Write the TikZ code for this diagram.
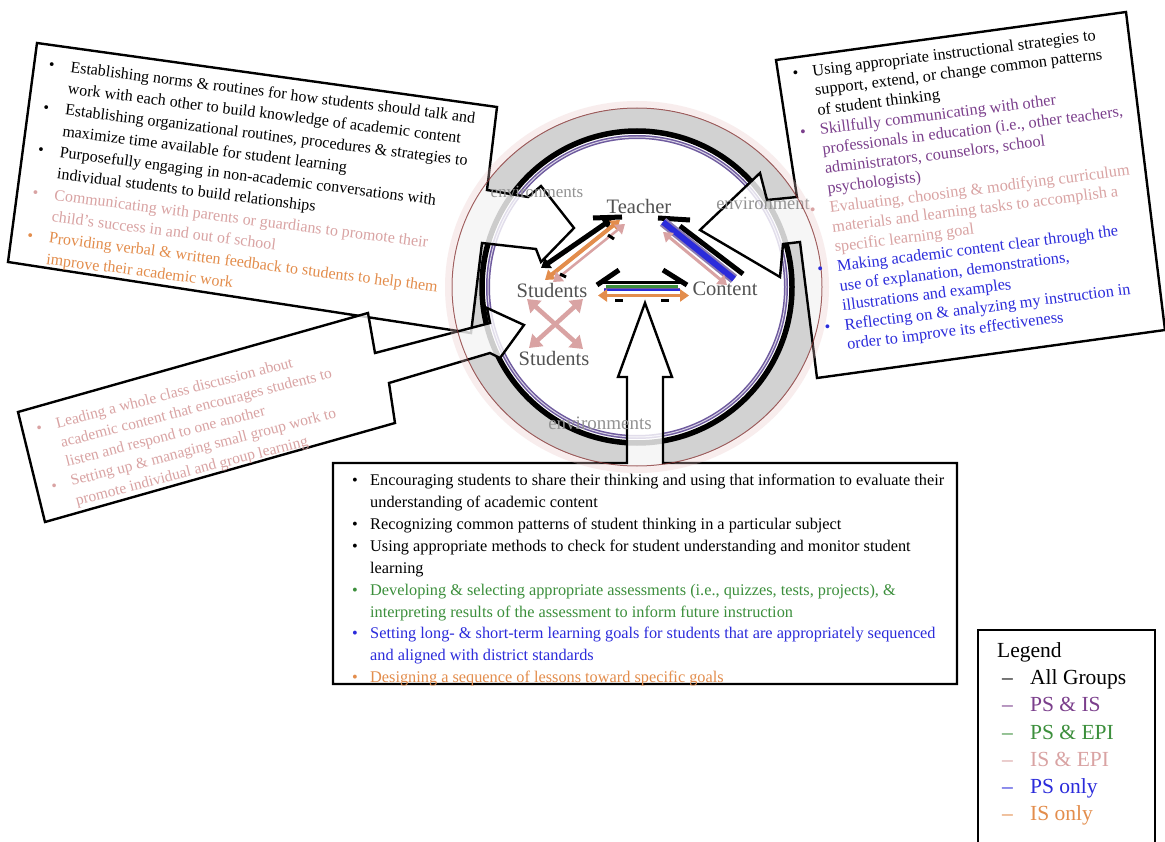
\documentclass[tikz,border=0pt]{standalone}
\usepackage{fontspec}
\setmainfont{Liberation Serif}
\usetikzlibrary{arrows.meta,calc}
\definecolor{cPurple}{HTML}{7B3F8C}
\definecolor{cGreen}{HTML}{3C8F3C}
\definecolor{cPink}{HTML}{D9A3A3}
\definecolor{cBlue}{HTML}{2B2BDB}
\definecolor{cOrange}{HTML}{E38D4C}
\definecolor{cRing}{HTML}{D2D2D2}
\definecolor{cRedLine}{HTML}{8B3A3A}
\definecolor{cHalo}{HTML}{E8C4C4}
\definecolor{cRingPurple}{HTML}{6E5A9E}
\newcommand\bl[2]{\makebox[22pt][l]{\color{#1}\textbullet}{\color{#1}#2}}
\newcommand\cl[2]{\hspace*{22pt}{\color{#1}#2}}
\newcommand\bb[2]{\makebox[18pt][l]{\color{#1}\textbullet}{\color{#1}#2}}
\newcommand\cb[2]{\hspace*{18pt}{\color{#1}#2}}
\begin{document}
\begin{tikzpicture}[x=1pt,y=-1pt,
  callout/.style={draw=black, line width=2.4pt, fill=white, fill opacity=0.8, line join=miter},
  boxtext/.style={inner sep=0pt, align=left, anchor=north west},
  env/.style={text=gray!85, inner sep=0pt},
  hub/.style={text=black!68, font=\fontsize{20.5}{20.5}\selectfont, inner sep=0pt},
  tips/.style={{Triangle[length=9pt,width=12pt]}-{Triangle[length=9pt,width=12pt]}},
  bigtips/.style={{Triangle[length=12pt,width=16pt]}-{Triangle[length=12pt,width=16pt]}},
  bar/.style={line width=5pt, black},
  legtext/.style={inner sep=0pt, align=left, anchor=north west, font=\fontsize{21.5}{27.3}\selectfont}
]
\useasboundingbox (0,0) rectangle (1165,842);
\fill[white] (0,0) rectangle (1165,842);

% ---- environment ring ----
\fill[cRing, even odd rule] (637,287) ellipse [x radius=185pt, y radius=179pt]
                            (637,287) ellipse [x radius=157pt, y radius=157pt];
\draw[line width=5.5pt] (637,287) ellipse [x radius=155pt, y radius=156pt];
\draw[cRingPurple, line width=4pt] (637,287) ellipse [x radius=149pt, y radius=150pt];
\draw[white!75!cRingPurple, line width=1pt] (637,287) ellipse [x radius=149pt, y radius=150pt];

% ---- callouts ----
\draw[callout] (37,43) -- (497,107) -- (487,190) -- (528,197) -- (541,186) -- (574,228)
  -- (541,262) -- (536,249) -- (482,243) -- (471,333) -- (8,262) -- cycle;
\draw[callout] (776,60) -- (1126,12) -- (1165,330) -- (817,378) -- (800,242) -- (783,244)
  -- (780,277) -- (700,230) -- (760,173) -- (767,200) -- (797,197) -- cycle;
\draw[callout] (18,412) -- (368,313) -- (375,353) -- (490,323) -- (487,308) -- (524,325)
  -- (500,358) -- (490,353) -- (389,383) -- (395,423) -- (45,522) -- cycle;
\draw[callout] (333,463) -- (627,463) -- (627,377) -- (618,377) -- (645,303) -- (672,377)
  -- (663,377) -- (663,463) -- (957,463) -- (957,684) -- (333,684) -- cycle;

% ---- ring labels ----
\node[env, font=\fontsize{17}{17}\selectfont] (envA) at (537,192) {environments};
\node[env, font=\fontsize{18.5}{18.5}\selectfont] (envB) at (763,203) {environment};
\node[env, font=\fontsize{19}{19}\selectfont] (envC) at (600,423) {environments};

% ---- hub labels ----
\node[hub] (tea) at (639,206) {Teacher};
\node[hub] (stuA) at (552,290) {Students};
\node[hub] (con) at (725,289) {Content};
\node[hub] (stuB) at (554,358) {Students};

% ---- Students -- Teacher ----
\coordinate (st1) at (541,268); \coordinate (st2) at (612,219);
\coordinate (st3) at (545,280); \coordinate (st4) at (620,220);
\coordinate (st5) at (553,282); \coordinate (st6) at (625,224);
\draw[bar] (593,218) -- (622,217);
\draw[black, line width=5pt, tips] (st1) -- (st2);
\draw[cOrange, line width=4pt, tips] (st3) -- (st4);
\draw[cPink, line width=2.5pt, tips] (st5) -- (st6);
\draw[line width=3pt] (608,235) -- (614,239);
\draw[line width=3pt] (560,274) -- (566,277);

% ---- Teacher -- Content ----
\coordinate (tc1) at (663,222); \coordinate (tc2) at (734,279);
\coordinate (tc3) at (663,232); \coordinate (tc4) at (727,285);
\coordinate (tc5) at (680,226); \coordinate (tc6) at (743,274);
\draw[bar] (658,218) -- (690,220);
\draw[black, line width=5pt] (tc5) -- (tc6);
\draw[cRingPurple!80, line width=10pt] (tc1) -- (tc2);
\draw[cBlue, line width=6pt] (tc1) -- (tc2);
\draw[cPink, line width=3pt, tips] (tc3) -- (tc4);

% ---- Students -- Content ----
\coordinate (sc1) at (603,283); \coordinate (sc2) at (682,283);
\coordinate (sc3) at (606,286.5); \coordinate (sc4) at (678,286.5);
\coordinate (sc5) at (604,290); \coordinate (sc6) at (680,290);
\coordinate (sc7) at (598,295.5); \coordinate (sc8) at (689,295.5);
\draw[bar] (597,285) -- (619,270);
\draw[bar] (663,270) -- (687,285);
\draw[black, line width=3pt] (sc1) -- (sc2);
\draw[cGreen, line width=3.5pt] (sc3) -- (sc4);
\draw[cRingPurple, line width=3pt] (sc5) -- (sc6);
\draw[cBlue, line width=1.5pt] (sc5) -- (sc6);
\draw[cOrange, line width=3.5pt, tips] (sc7) -- (sc8);
\draw[line width=3pt] (615,301) -- (623,301);
\draw[line width=3pt] (661,301) -- (669,301);

% ---- Students -- Students ----
\coordinate (ss1) at (527,299); \coordinate (ss2) at (583,349);
\coordinate (ss3) at (583,299); \coordinate (ss4) at (529,348);
\draw[cPink, line width=4.5pt, bigtips] (ss1) -- (ss2);
\draw[cPink, line width=4.5pt, bigtips] (ss3) -- (ss4);

% ---- outer rim ----
\draw[cHalo, line width=6pt, opacity=0.3] (637,287) ellipse [x radius=189pt, y radius=183pt];
\draw[cRedLine, line width=1pt, opacity=0.8] (637,287) ellipse [x radius=185pt, y radius=179pt];

% ---- box texts ----
\begin{scope}[shift={(70,72)}, rotate=-7.2, transform shape]
\node[boxtext, font=\fontsize{16}{21.5}\selectfont] (tlText) at (-22,-11.2) {%
\bl{black}{Establishing norms \& routines for how students should talk and}\\
\cl{black}{work with each other to build knowledge of academic content}\\
\bl{black}{Establishing organizational routines, procedures \& strategies to}\\
\cl{black}{maximize time available for student learning}\\
\bl{black}{Purposefully engaging in non-academic conversations with}\\
\cl{black}{individual students to build relationships}\\
\bl{cPink}{Communicating with parents or guardians to promote their}\\
\cl{cPink}{child's success in and out of school}\\
\bl{cOrange}{Providing verbal \& written feedback to students to help them}\\
\cl{cOrange}{improve their academic work}};
\end{scope}

\begin{scope}[shift={(813,76)}, rotate=7.2, transform shape]
\node[boxtext, font=\fontsize{16.3}{19.7}\selectfont] (rText) at (-20,-11.4) {%
\makebox[20pt][l]{\textbullet}Using appropriate instructional strategies to\\
\hspace*{20pt}support, extend, or change common patterns\\
\hspace*{20pt}of student thinking\\
{\color{cPurple}\makebox[20pt][l]{\textbullet}Skillfully communicating with other}\\
{\color{cPurple}\hspace*{20pt}professionals in education (i.e., other teachers,}\\
{\color{cPurple}\hspace*{20pt}administrators, counselors, school}\\
{\color{cPurple}\hspace*{20pt}psychologists)}\\
{\color{cPink}\makebox[20pt][l]{\textbullet}Evaluating, choosing \& modifying curriculum}\\
{\color{cPink}\hspace*{20pt}materials and learning tasks to accomplish a}\\
{\color{cPink}\hspace*{20pt}specific learning goal}\\
{\color{cBlue}\makebox[20pt][l]{\textbullet}Making academic content clear through the}\\
{\color{cBlue}\hspace*{20pt}use of explanation, demonstrations,}\\
{\color{cBlue}\hspace*{20pt}illustrations and examples}\\
{\color{cBlue}\makebox[20pt][l]{\textbullet}Reflecting on \& analyzing my instruction in}\\
{\color{cBlue}\hspace*{20pt}order to improve its effectiveness}};
\end{scope}

\begin{scope}[shift={(57,428)}, rotate=14.5, transform shape]
\node[boxtext, font=\fontsize{15.5}{19.9}\selectfont, text=cPink] (llText) at (-20,-10.7) {%
\makebox[20pt][l]{\textbullet}Leading a whole class discussion about\\
\hspace*{20pt}academic content that encourages students to\\
\hspace*{20pt}listen and respond to one another\\
\makebox[20pt][l]{\textbullet}Setting up \& managing small group work to\\
\hspace*{20pt}promote individual and group learning};
\end{scope}

\node[boxtext, font=\fontsize{16.3}{21.9}\selectfont] (bText) at (352,474) {%
\bb{black}{Encouraging students to share their thinking and using that information to evaluate their}\\
\cb{black}{understanding of academic content}\\
\bb{black}{Recognizing common patterns of student thinking in a particular subject}\\
\bb{black}{Using appropriate methods to check for student understanding and monitor student}\\
\cb{black}{learning}\\
\bb{cGreen}{Developing \& selecting appropriate assessments (i.e., quizzes, tests, projects), \&}\\
\cb{cGreen}{interpreting results of the assessment to inform future instruction}\\
\bb{cBlue}{Setting long- \& short-term learning goals for students that are appropriately sequenced}\\
\cb{cBlue}{and aligned with district standards}\\
\bb{cOrange}{Designing a sequence of lessons toward specific goals}};

% ---- legend ----
\draw[line width=2.4pt] (978,630) rectangle (1155,860);
\node[legtext] (legend) at (997,642) {%
Legend\\
\makebox[33pt][l]{\hspace{5pt}–}All Groups\\
{\color{cPurple}\makebox[33pt][l]{\hspace{5pt}–}PS \& IS}\\
{\color{cGreen}\makebox[33pt][l]{\hspace{5pt}–}PS \& EPI}\\
{\color{cPink}\makebox[33pt][l]{\hspace{5pt}–}IS \& EPI}\\
{\color{cBlue}\makebox[33pt][l]{\hspace{5pt}–}PS only}\\
{\color{cOrange}\makebox[33pt][l]{\hspace{5pt}–}IS only}};
\end{tikzpicture}
\end{document}
